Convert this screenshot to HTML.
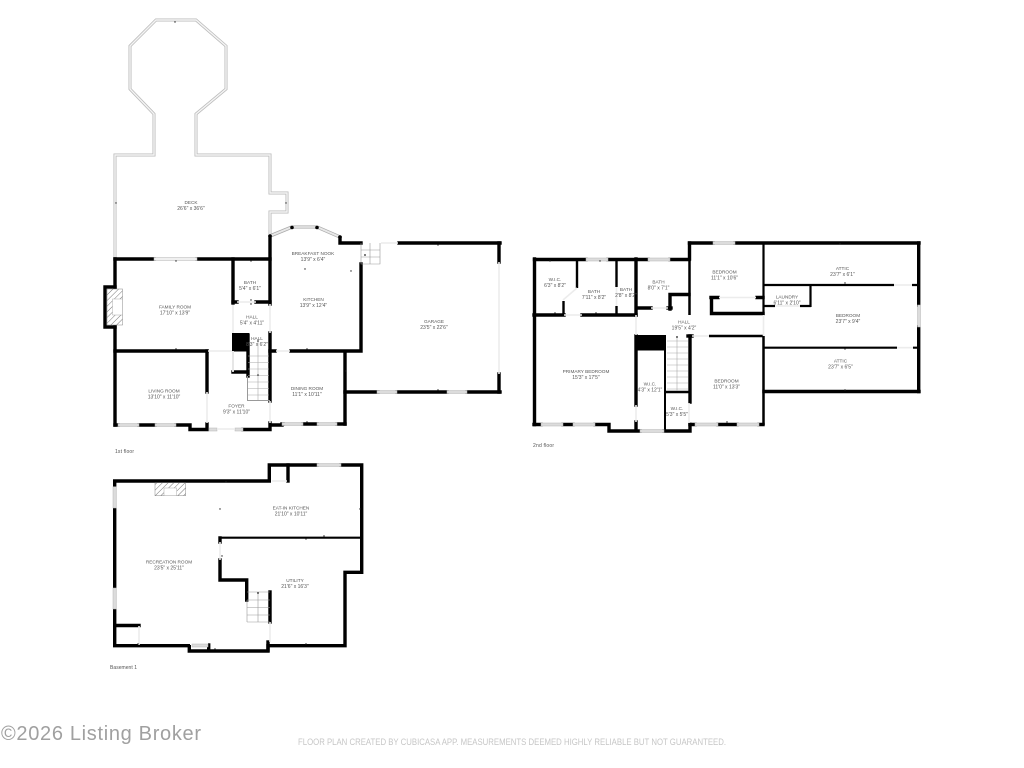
<!DOCTYPE html>
<html>
<head>
<meta charset="utf-8">
<style>
html,body{margin:0;padding:0;background:#fff;}
svg{display:block;}
text{font-family:"Liberation Sans",sans-serif;}
.l text{font-size:5px;fill:#555;text-anchor:middle;}
.l text:nth-child(odd){font-size:4.7px;}
.w{fill:none;stroke:#000;stroke-width:3.4;stroke-linecap:square;stroke-linejoin:miter;}
.t{fill:none;stroke:#000;stroke-width:2;stroke-linecap:butt;}
.g{fill:none;stroke:#bbb;stroke-width:3;stroke-linejoin:miter;}
.gi{fill:none;stroke:#f4f4f4;stroke-width:1.4;stroke-linejoin:miter;}
.win rect{fill:#dcdcdc;stroke:#b5b5b5;stroke-width:.5;}
.op{fill:none;stroke:#ececec;stroke-width:1.6;}
.st{fill:none;stroke:#aaa;stroke-width:.6;}
</style>
</head>
<body>
<svg width="1024" height="768" viewBox="0 0 1024 768" xmlns="http://www.w3.org/2000/svg">
<defs>
<pattern id="h" width="4" height="4" patternUnits="userSpaceOnUse" patternTransform="rotate(-45)">
<rect width="4" height="4" fill="#fff"/><line x1="0" y1="0" x2="4" y2="0" stroke="#777" stroke-width="1"/>
</pattern>
</defs>
<rect width="1024" height="768" fill="#fff"/>

<!-- Deck -->
<path class="g" d="M115 258V155H154V114L130 89V46L156 20H196L226 46V89L196 114V155H270V193H287V212H270V236"/>
<path class="gi" d="M115 258V155H154V114L130 89V46L156 20H196L226 46V89L196 114V155H270V193H287V212H270V236"/>

<!-- Bay window -->
<path d="M270 236L292 227M317 227L340 237" stroke="#aaa" stroke-width="3.4" fill="none"/>
<path d="M270 236L292 227M317 227L340 237" stroke="#e8e8e8" stroke-width="2" fill="none"/>
<g class="win"><rect x="292" y="225.5" width="25" height="3"/></g>
<circle cx="270" cy="236" r="1.8"/><circle cx="292" cy="227.5" r="1.8"/><circle cx="317" cy="227.5" r="1.8"/><circle cx="340" cy="237" r="1.8"/>

<!-- 1st floor walls -->
<path class="w" d="M115 259H154M197 259H270"/>
<path class="w" d="M115 259V425"/>
<path class="w" d="M115 287H105V327H115"/>
<path class="w" d="M115 351H207"/>
<path class="w" d="M207 351V392"/>
<path class="w" d="M115 425H118M139 425H155M176 425H190V429.500H207V424"/>
<path class="w" d="M243 429.500H270V423M270 425H282"/>
<path class="w" d="M233 259V303"/>
<path class="w" d="M233 302H237M256 302H270"/>
<path class="w" d="M270 237V304"/>
<path class="w" d="M270 333V401"/>
<path class="w" d="M248 335V376"/>
<path class="w" d="M233 372H247"/>
<rect x="232" y="333" width="17" height="18.500"/>
<path class="t" d="M233 351V372" style="stroke:#ccc"/>
<path class="w" d="M270 351H275M291 351H361M361 264V351"/>
<path class="w" d="M340 238V243H361M399 243H500"/>
<path class="w" d="M499 243V262M499 374V392"/>
<path class="w" d="M345 392H378M397 392H447M467 392H500"/>
<path class="w" d="M345 352V424"/>
<path class="w" d="M282 424H283M303 424H317M337 424H345"/>
<g class="win">
<rect x="154" y="257.500" width="43" height="3" style="fill:#f0f0f0"/>
<rect x="118" y="423.500" width="21" height="3"/>
<rect x="155" y="423.500" width="21" height="3"/>
<rect x="209" y="428" width="8" height="3"/>
<rect x="235" y="428" width="8" height="3"/>
<rect x="282" y="422.500" width="21" height="3"/>
<rect x="317" y="422.500" width="20" height="3"/>
<rect x="377" y="390.500" width="20" height="3"/>
<rect x="447" y="390.500" width="20" height="3"/>
</g>
<path class="op" d="M237 302H256M217 429H235M207 392V423M270 304V333M270 401V423M208 351H232M276 351H290M381 243H398M499 262V374M233 305V333M233 351V371"/>
<path class="st" style="stroke:#999;stroke-width:1" d="M247.500 376V400.500H270"/>
<!-- 1st floor stairs -->
<path class="st" d="M248 356H269M248 362.500H269M248 369H269M248 375.500H269M248 382H269M248 388.500H269M248 395H269M258 339V400"/>
<path class="st" d="M361 243V264H380V243M361 250H380M361 257H380M370 243V264" style="stroke:#999"/>
<!-- Fireplace -->
<rect x="107" y="289" width="15.500" height="36" fill="url(#h)" stroke="#888" stroke-width=".5"/>
<rect x="112.500" y="299" width="10" height="16" fill="#fff" stroke="#999" stroke-width=".4"/>

<!-- 2nd floor walls -->
<path class="w" d="M534.500 259V424.500"/>
<path class="w" d="M534.500 259.500H586M608 259.500H648M670 259.500H689"/>
<path class="w" d="M689.500 243V259"/>
<path class="t" style="stroke-width:2.500" d="M689.500 259V315"/>
<path class="w" d="M689.500 243H713M735 243H919"/>
<path class="w" d="M918.700 243V305M918.700 327V391.500"/>
<path class="w" d="M764 391.500H919"/>
<path class="t" style="stroke-width:2.200" d="M763.500 243V315"/>
<path class="t" style="stroke-width:2.500" d="M763.500 336V425"/>
<path class="t" style="stroke-width:2.200" d="M763 285H894M912 285H918M763 347.700H897M913 347.700H918"/>
<path class="t" style="stroke-width:2.200" d="M810.500 285V307M763 306H775M800 306H811"/>
<path class="w" d="M711.500 298V313.500H763M711 297.500H718M757 297.500H763"/>
<path class="w" d="M688 336H692"/>
<path class="t" style="stroke-width:2.400" d="M709 336H763"/>
<path class="w" d="M690 336V402"/>
<path class="w" d="M690 424.500H695M718 424.500H737M759 424.500H763"/>
<path class="w" d="M690 424.500V431H664M640 431H609V424.500H595M573 424.500H563M541 424.500H534"/>
<path class="w" d="M534 315H564M582 315H636"/>
<path class="w" d="M636 259V315M636 336V405M636 422V430"/>
<path class="t" style="stroke-width:2.400" d="M577 259V288M563.500 301V315M616.500 259V287M616.500 306V315"/>
<path class="w" d="M637 308H651"/>
<path class="w" d="M670 309V294.500H689"/>
<path class="w" d="M668 308H671"/>
<rect x="636" y="335" width="30" height="15.500"/>
<path class="t" d="M665 350V430"/>
<path class="t" style="stroke-width:2.400" d="M665 392H689"/>
<!-- 2nd windows -->
<g class="win">
<rect x="586" y="258" width="22" height="3"/>
<rect x="648" y="258" width="22" height="3"/>
<rect x="713" y="241.500" width="22" height="3"/>
<rect x="541" y="423" width="22" height="3"/>
<rect x="573" y="423" width="22" height="3"/>
<rect x="695" y="423" width="23" height="3"/>
<rect x="737" y="423" width="22" height="3"/>
<rect x="640" y="429.500" width="24" height="3"/>
<rect x="917.500" y="305" width="3" height="22"/>
</g>
<path class="op" d="M564 315H582M692 336H709M651 308H668M719 297.500H756M894 285H912M897 347.700H913M775 306H800M636 315V335M636 405V422M689 403V423M763.500 315V336M563 300L577 288M616.500 287V306"/>
<!-- 2nd stairs -->
<path class="st" d="M667 341H688M667 347H688M667 353H688M667 359H688M667 365H688M667 371H688M667 377H688M667 383H688M667 389H688M677 336V391"/>

<!-- Basement walls -->
<path class="w" d="M114.700 481H269.300V465H317M341 465H361.700V572.300H345V645.700H268V651H189.300V645.700H114.700V481"/>
<path class="w" d="M288 465V481"/>
<path class="t" style="stroke-width:2.200" d="M220 537.700H361"/>
<path class="w" d="M220 538V542M220 560V580H246.700V600"/>
<path class="w" d="M270 592V622"/>
<path class="w" d="M115 625.500H139"/>
<path class="w" d="M208.700 645V650"/>
<path class="w" d="M268 642V650"/>
<rect x="190" y="643" width="18" height="2" fill="#fff"/>
<g class="win">
<rect x="113" y="486.700" width="3.200" height="21.300"/>
<rect x="113" y="588" width="3.200" height="21"/>
<rect x="317" y="463.500" width="24" height="3"/>
<rect x="192" y="644" width="16" height="3"/>
</g>
<path class="op" d="M220 542V560M270 622V642M139 626V645M272 481H287"/>
<path class="st" d="M247 592H270M247 600H270M247 607.500H270M247 615H270M247 622H270M258 592V622M247 600V622" style="stroke:#999"/>
<rect x="155" y="482.700" width="30.700" height="13" fill="url(#h)" stroke="#888" stroke-width=".5"/>
<rect x="164" y="488" width="12.700" height="7.700" fill="#fff" stroke="#999" stroke-width=".4"/>

<!-- Small dots -->
<g fill="#222">
<circle cx="175" cy="22" r=".7"/><circle cx="116" cy="203" r=".7"/><circle cx="286" cy="203" r=".7"/>
<circle cx="176" cy="261" r=".7"/><circle cx="176" cy="349" r=".7"/><circle cx="251" cy="261" r=".7"/>
<circle cx="251" cy="300" r=".7"/><circle cx="251" cy="304" r=".7"/><circle cx="258" cy="341" r=".8"/>
<circle cx="258" cy="375" r=".8"/><circle cx="305" cy="269" r=".7"/><circle cx="351" cy="271" r=".7"/>
<circle cx="365" cy="255" r=".9"/><circle cx="438" cy="245" r=".7"/><circle cx="438" cy="390" r=".7"/>
<circle cx="307" cy="349" r=".7"/><circle cx="307" cy="422" r=".7"/><circle cx="346" cy="371" r=".7"/>
<circle cx="550" cy="261" r=".7"/><circle cx="600" cy="261" r=".7"/><circle cx="555" cy="313" r=".7"/>
<circle cx="596" cy="313" r=".7"/><circle cx="677" cy="337" r=".9"/><circle cx="840" cy="244" r=".7"/>
<circle cx="845" cy="283" r=".7"/><circle cx="845" cy="349" r=".7"/><circle cx="845" cy="390" r=".7"/>
<circle cx="727" cy="422" r=".7"/><circle cx="226" cy="482" r=".7"/><circle cx="220" cy="509" r=".7"/>
<circle cx="360" cy="509" r=".7"/><circle cx="324" cy="536" r=".7"/><circle cx="306" cy="539" r=".7"/>
<circle cx="222" cy="556" r=".7"/><circle cx="258" cy="593" r=".9"/><circle cx="306" cy="644" r=".7"/>
<circle cx="138" cy="644" r=".7"/><circle cx="215" cy="649" r=".7"/>
</g>

<!-- Labels -->
<g class="l">
<text x="191" y="204">DECK</text><text x="191" y="210">26'6" x 36'6"</text>
<text x="250" y="284">BATH</text><text x="250" y="290">5'4" x 6'1"</text>
<text x="175" y="308.500">FAMILY ROOM</text><text x="175" y="314.500">17'10" x 13'9"</text>
<text x="252" y="318.500">HALL</text><text x="252" y="324.500">5'4" x 4'11"</text>
<text x="257" y="340">HALL</text><text x="257" y="346">8'3" x 6'2"</text>
<text x="164" y="392.500">LIVING ROOM</text><text x="164" y="398.500">13'10" x 11'10"</text>
<text x="236.500" y="407.500">FOYER</text><text x="236.500" y="413.500">9'3" x 11'10"</text>
<text x="307" y="390">DINING ROOM</text><text x="307" y="396">11'1" x 10'11"</text>
<text x="313" y="255">BREAKFAST NOOK</text><text x="313" y="261">13'9" x 6'4"</text>
<text x="313.500" y="301">KITCHEN</text><text x="313.500" y="307">13'9" x 12'4"</text>
<text x="434" y="323">GARAGE</text><text x="434" y="329">23'5" x 22'6"</text>

<text x="555" y="281">W.I.C.</text><text x="555" y="287">6'3" x 8'2"</text>
<text x="594" y="293">BATH</text><text x="594" y="299">7'11" x 8'2"</text>
<text x="626" y="291">BATH</text><text x="626" y="297">2'8" x 8'2"</text>
<text x="658.500" y="283.500">BATH</text><text x="658.500" y="289.500">8'0" x 7'1"</text>
<text x="684" y="323.500">HALL</text><text x="684" y="329.500">19'5" x 4'2"</text>
<text x="586" y="373">PRIMARY BEDROOM</text><text x="586" y="379">15'3" x 17'5"</text>
<text x="650" y="385.500">W.I.C.</text><text x="650" y="391.500">4'3" x 12'1"</text>
<text x="677" y="410">W.I.C.</text><text x="677" y="416">5'3" x 5'5"</text>
<text x="724.500" y="273.500">BEDROOM</text><text x="724.500" y="279.500">11'1" x 10'6"</text>
<text x="842.500" y="270">ATTIC</text><text x="842.500" y="276">23'7" x 6'1"</text>
<text x="787" y="298.500">LAUNDRY</text><text x="787" y="304.500">6'11" x 2'10"</text>
<text x="848" y="317">BEDROOM</text><text x="848" y="323">23'7" x 9'4"</text>
<text x="840.500" y="362.500">ATTIC</text><text x="840.500" y="368.500">23'7" x 6'5"</text>
<text x="726.500" y="382.500">BEDROOM</text><text x="726.500" y="388.500">11'0" x 13'3"</text>

<text x="291" y="509.500">EAT-IN KITCHEN</text><text x="291" y="515.500">21'10" x 10'11"</text>
<text x="169" y="563.500">RECREATION ROOM</text><text x="169" y="569.500">23'5" x 25'11"</text>
<text x="295" y="582">UTILITY</text><text x="295" y="588">21'6" x 16'3"</text>
</g>
<g style="font-size:5px;fill:#555">
<text x="115" y="453" textLength="19">1st floor</text>
<text x="533" y="447" textLength="21">2nd floor</text>
<text x="110" y="669" textLength="27">Basement 1</text>
</g>

<!-- Footer -->
<text x="1" y="740" textLength="200" lengthAdjust="spacing" style="font-size:20px;fill:#a0a0a0;font-family:'Liberation Sans',sans-serif">©2026 Listing Broker</text>
<text x="298" y="745" textLength="428" lengthAdjust="spacingAndGlyphs" style="font-size:9.500px;fill:#c6c6c6">FLOOR PLAN CREATED BY CUBICASA APP. MEASUREMENTS DEEMED HIGHLY RELIABLE BUT NOT GUARANTEED.</text>
</svg>
</body>
</html>
